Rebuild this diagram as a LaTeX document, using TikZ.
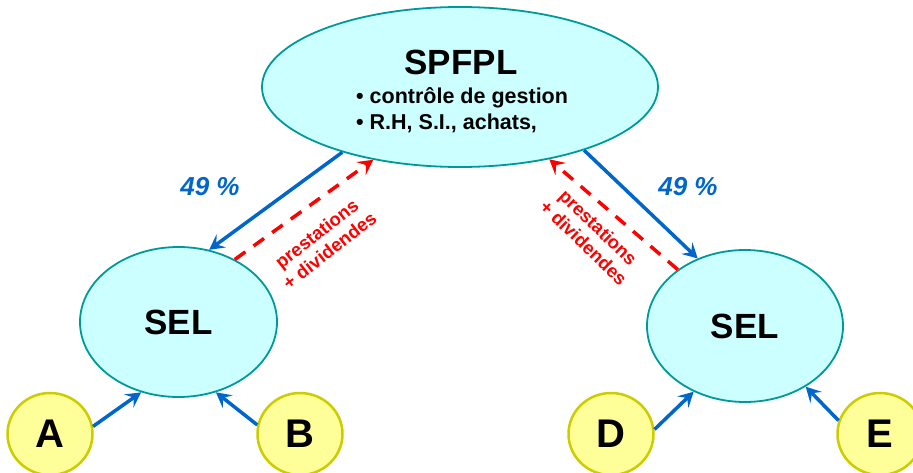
\documentclass[tikz,border=0pt]{standalone}
\usepackage{fontspec}
\setmainfont{Liberation Sans}
\usetikzlibrary{arrows.meta, shapes.geometric}
\definecolor{selfill}{HTML}{CCFFFF}
\definecolor{seldraw}{HTML}{009999}
\definecolor{assocfill}{HTML}{FFFF99}
\definecolor{assocdraw}{HTML}{CCCC00}
\definecolor{shareblue}{HTML}{0066CC}

\begin{document}
\begin{tikzpicture}[x=1pt, y=-1pt,
  entity/.style={ellipse, draw=seldraw, fill=selfill, line width=1.8pt,
                 inner sep=0pt, font=\fontsize{35}{40}\selectfont\bfseries},
  assoc/.style={ellipse, draw=assocdraw, fill=assocfill, line width=2.5pt,
                minimum width=85pt, minimum height=82pt, inner sep=0pt,
                font=\fontsize{40}{44}\selectfont\bfseries},
  share/.style={-{Stealth[length=15pt,width=16pt,inset=6pt]}, shareblue, line width=3.5pt},
  flow/.style={-{Stealth[length=15pt,width=16pt,inset=6pt]}, red, line width=3.5pt,
               dash pattern=on 13pt off 10pt},
  pct/.style={text=shareblue, font=\fontsize{26}{30}\selectfont\bfseries\itshape},
  flowlabel/.style={text=red, align=center, inner sep=0pt,
                    font=\fontsize{18.5}{21}\selectfont\bfseries}
]
\useasboundingbox (0,0) rectangle (913,473);

\node[entity, minimum width=396pt, minimum height=160pt] (spfpl) at (460,87) {};
\node[font=\fontsize{35}{40}\selectfont\bfseries] (title) at (461,62) {SPFPL};
\node[anchor=west, align=left, inner sep=0pt,
      font=\fontsize{21.5}{26}\selectfont\bfseries] (tasks) at (356,110)
  {\textbullet\ contrôle de gestion\\ \textbullet\ R.H, S.I., achats,};

\node[entity, minimum width=197pt, minimum height=150pt] (selL) at (178.5,322) {SEL};
\node[entity, minimum width=196pt, minimum height=152pt] (selR) at (745,326) {SEL};

\node[assoc] (a) at (50,434) {A};
\node[assoc] (b) at (300,434) {B};
\node[assoc] (d) at (611,434) {D};
\node[assoc] (e) at (880,434) {E};

\draw[share] (spfpl.209) -- (selL.67);
\draw[flow] (selL.48) -- (spfpl.220);
\draw[share] (spfpl.333) -- (selR.125);
\draw[flow] (selR.140) -- (spfpl.321);

\draw[share] (a.10) -- (selL.242);
\draw[share] (b.168) -- (selL.298);
\draw[share] (d.6) -- (selR.232);
\draw[share] (e.162) -- (selR.315);

\node[pct] (pctL) at (210,187) {49 \%};
\node[pct] (pctR) at (688,187) {49 \%};

\node[flowlabel, rotate=38] (flowL) at (323,242) {prestations\\+ dividendes};
\node[flowlabel, rotate=-44] (flowR) at (591,235) {prestations\\+ dividendes};

\end{tikzpicture}
\end{document}
